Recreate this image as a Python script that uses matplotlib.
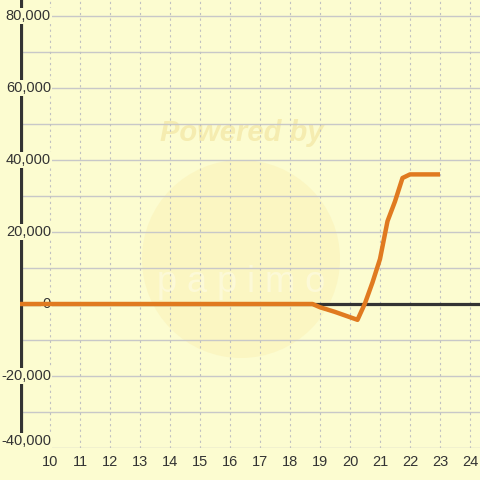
import numpy as np
import matplotlib
matplotlib.use("Agg")
import matplotlib.pyplot as plt
from matplotlib.patches import Circle

## data
hours  = [9.0, 18.75, 19.0, 19.5, 20.25, 20.5, 20.75, 21.0, 21.25, 21.5, 21.75, 22.0, 23.0]
values = [0, 0, -900, -2200, -4400, 200, 6000, 12500, 23000, 28500, 35000, 36000, 36000]
xticks = list(range(10, 25))
yticks = [-40000, -20000, 0, 20000, 40000, 60000, 80000]
ygrid  = list(range(-40000, 80001, 10000))

## style
bg   = '#fcfcd0'
dark = '#333333'
plt.rcParams['font.family'] = ['Liberation Sans', 'DejaVu Sans']

fig = plt.figure(figsize=(4.8, 4.8), dpi=100)
fig.patch.set_facecolor(bg)
ax = fig.add_axes([20/480, 32/480, 460/480, 448/480])
ax.set_facecolor(bg)
ax.set_xlim(9.0, 9.0 + 460/30)
ax.set_ylim(-40000, 80000 + 16/3.6*1000)
for s in ax.spines.values():
    s.set_visible(False)

## watermark (behind the grid)
circ = Circle((241/480, 1 - 259/480), 99/480, transform=fig.transFigure,
              facecolor='#fbf6c2', edgecolor='none', zorder=0.5)
ax.add_patch(circ)
ax.text(242/480, 1 - 133/480, 'Powered by', transform=fig.transFigure,
        ha='center', va='center', fontsize=21, fontweight='bold', fontstyle='italic',
        color='#f5ecb0', zorder=0.6)
ax.text(241/480, 1 - 282/480, 'p a p i m o', transform=fig.transFigure,
        ha='center', va='center', fontsize=26, color='white', alpha=0.35, zorder=0.6)

## grid
for g in ygrid:
    ax.axhline(g, color='#c8c8c8', lw=1, zorder=1)
for t in xticks:
    ax.axvline(t, color='#c0c0c0', lw=0.8, ls=(0, (2, 3)), zorder=1)
ax.axhline(0, color=dark, lw=2.3, zorder=2)
ax.axvline(9.0 + 1/30, color=dark, lw=2.3, zorder=2)

## series
ax.plot(hours, values, color='#e07a20', lw=3.2, solid_joinstyle='round',
        solid_capstyle='butt', zorder=4)

## ticks
ax.set_xticks(xticks)
ax.set_xticklabels([str(t) for t in xticks], color=dark, fontsize=10.5)
ax.tick_params(axis='x', length=0, pad=5)
ax.set_yticks([])
for v in yticks:
    va = 'bottom' if v == yticks[0] else 'center'
    ax.text(10.03, v, '{:,}'.format(v), ha='right', va=va, fontsize=10.5, color=dark,
            zorder=3, bbox=dict(facecolor=bg, edgecolor='none', pad=1))

fig.savefig('out.png', dpi=100, facecolor=bg)
